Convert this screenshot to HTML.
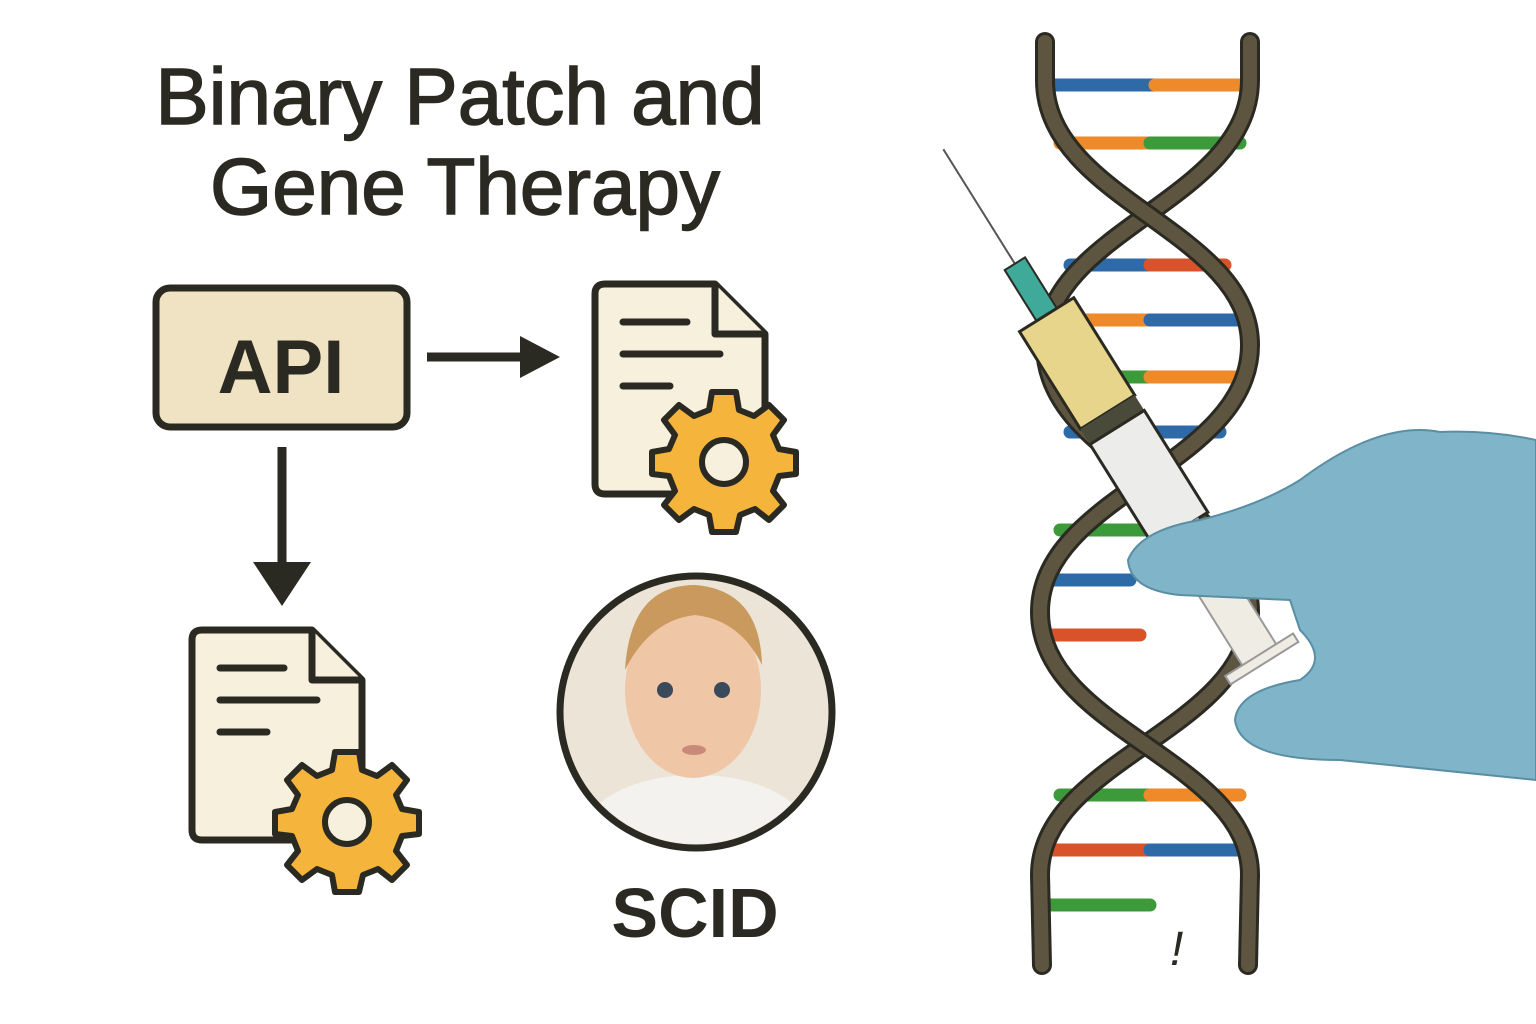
<!DOCTYPE html>
<html><head><meta charset="utf-8"><style>
html,body{margin:0;padding:0;background:#fff}
svg{display:block}
</style></head><body>
<svg width="1536" height="1024" viewBox="0 0 1536 1024" xmlns="http://www.w3.org/2000/svg">
<rect width="1536" height="1024" fill="#fff"/>
<g font-family="Liberation Sans, sans-serif" fill="#2b2a22" stroke="#2b2a22" stroke-width="1.5">
<text x="460" y="124" font-size="80" text-anchor="middle">Binary Patch and</text>
<text x="465" y="214" font-size="80" text-anchor="middle">Gene Therapy</text>
</g>
<rect x="156" y="288" width="251" height="139" rx="14" fill="#efe3c4" stroke="#2b2a22" stroke-width="7"/>
<text x="281" y="393" font-family="Liberation Sans, sans-serif" font-weight="bold" font-size="76" text-anchor="middle" fill="#2b2a22">API</text>
<line x1="427" y1="357" x2="525" y2="357" stroke="#2b2a22" stroke-width="9"/>
<polygon points="520,336 560,357 520,378" fill="#2b2a22"/>
<line x1="282" y1="447" x2="282" y2="570" stroke="#2b2a22" stroke-width="9"/>
<polygon points="253,562 311,562 282,606" fill="#2b2a22"/>
<defs>
<g id="doc">
<path d="M0,10 Q0,0 10,0 L120,0 L170,50 L170,200 Q170,210 160,210 L10,210 Q0,210 0,200 Z" fill="#f7f0dc" stroke="#2b2a22" stroke-width="7" stroke-linejoin="round"/>
<path d="M120,0 L120,50 L170,50" fill="#f7f0dc" stroke="#2b2a22" stroke-width="7" stroke-linejoin="round"/>
<line x1="28" y1="38" x2="92" y2="38" stroke="#2b2a22" stroke-width="7" stroke-linecap="round"/>
<line x1="28" y1="70" x2="125" y2="70" stroke="#2b2a22" stroke-width="7" stroke-linecap="round"/>
<line x1="28" y1="102" x2="75" y2="102" stroke="#2b2a22" stroke-width="7" stroke-linecap="round"/>
</g>
<g id="gear">
<g fill="#f5b43c" stroke="#2b2a22" stroke-width="6" stroke-linejoin="round">
<path d="M-12,-68 L12,-68 L15,-50 L30,-44 L45,-55 L60,-40 L49,-25 L55,-11 L72,-8 L72,14 L55,16 L49,31 L60,45 L45,60 L31,49 L16,55 L12,72 L-12,72 L-15,55 L-30,49 L-45,60 L-60,45 L-49,31 L-55,16 L-72,14 L-72,-8 L-55,-11 L-49,-25 L-60,-40 L-45,-55 L-30,-44 L-15,-50 Z"/>
<circle cx="0" cy="2" r="22" fill="#f7f0dc"/>
</g></g>
</defs>
<use href="#doc" x="595" y="284"/>
<use href="#gear" x="724" y="460"/>
<use href="#doc" x="192" y="630"/>
<use href="#gear" x="347" y="820"/>
<circle cx="696" cy="712" r="136" fill="#ece4d6" stroke="#2b2a22" stroke-width="7"/>
<clipPath id="cc"><circle cx="696" cy="712" r="132"/></clipPath>
<g clip-path="url(#cc)">
<ellipse cx="696" cy="830" rx="110" ry="55" fill="#f4f2ee"/>
<ellipse cx="693" cy="690" rx="68" ry="88" fill="#efc6a6"/>
<path d="M625,670 Q630,585 695,585 Q760,590 762,665 Q740,620 695,615 Q650,620 625,670Z" fill="#c9995e"/>
</g>
<circle cx="665" cy="690" r="8" fill="#3a4a5a"/><circle cx="722" cy="690" r="8" fill="#3a4a5a"/>
<ellipse cx="694" cy="750" rx="12" ry="5" fill="#c98a7a"/>
<text x="695" y="937" font-family="Liberation Sans, sans-serif" font-weight="bold" font-size="70" text-anchor="middle" fill="#2b2a22">SCID</text>
<g stroke-width="13" stroke-linecap="round">
<line x1="1055" y1="85" x2="1155" y2="85" stroke="#2f6aa8"/><line x1="1155" y1="85" x2="1245" y2="85" stroke="#ee8a2a"/>
<line x1="1060" y1="143" x2="1150" y2="143" stroke="#ee8a2a"/><line x1="1150" y1="143" x2="1240" y2="143" stroke="#3d9a3a"/>
<line x1="1070" y1="265" x2="1150" y2="265" stroke="#2f6aa8"/><line x1="1150" y1="265" x2="1225" y2="265" stroke="#d8532a"/>
<line x1="1055" y1="320" x2="1150" y2="320" stroke="#ee8a2a"/><line x1="1150" y1="320" x2="1245" y2="320" stroke="#2f6aa8"/>
<line x1="1055" y1="377" x2="1150" y2="377" stroke="#3d9a3a"/><line x1="1150" y1="377" x2="1245" y2="377" stroke="#ee8a2a"/>
<line x1="1070" y1="432" x2="1220" y2="432" stroke="#2f6aa8"/>
<line x1="1060" y1="530" x2="1145" y2="530" stroke="#3d9a3a"/>
<line x1="1050" y1="580" x2="1130" y2="580" stroke="#2f6aa8"/>
<line x1="1050" y1="635" x2="1140" y2="635" stroke="#d8532a"/>
<line x1="1060" y1="795" x2="1150" y2="795" stroke="#3d9a3a"/><line x1="1150" y1="795" x2="1240" y2="795" stroke="#ee8a2a"/>
<line x1="1050" y1="850" x2="1150" y2="850" stroke="#d8532a"/><line x1="1150" y1="850" x2="1245" y2="850" stroke="#2f6aa8"/>
<line x1="1050" y1="905" x2="1150" y2="905" stroke="#3d9a3a"/>
</g>
<g fill="none" stroke-linecap="round">
<path d="M1250,42 L1250,80 C1250,200 1045,230 1045,345 C1045,465 1250,495 1250,612 C1250,730 1040,760 1040,875 L1042,965" stroke="#2b2a22" stroke-width="20"/>
<path d="M1250,42 L1250,80 C1250,200 1045,230 1045,345 C1045,465 1250,495 1250,612 C1250,730 1040,760 1040,875 L1042,965" stroke="#5e5540" stroke-width="14"/>
<path d="M1045,42 L1045,80 C1045,200 1250,230 1250,345 C1250,465 1040,495 1040,612 C1040,730 1250,760 1250,875 L1248,965" stroke="#2b2a22" stroke-width="20"/>
<path d="M1045,42 L1045,80 C1045,200 1250,230 1250,345 C1250,465 1040,495 1040,612 C1040,730 1250,760 1250,875 L1248,965" stroke="#5e5540" stroke-width="14"/>
</g>
<text x="1170" y="965" font-family="Liberation Sans, sans-serif" font-style="italic" font-size="48" fill="#2b2a22">!</text>
<g transform="rotate(-32 1150 480)">
<line x1="1150" y1="90" x2="1150" y2="230" stroke="#555" stroke-width="2"/>
<rect x="1138" y="225" width="24" height="60" fill="#3fa99a" stroke="#2b2a22" stroke-width="2"/>
<rect x="1118" y="285" width="64" height="115" fill="#e6d58a" stroke="#2b2a22" stroke-width="3"/>
<rect x="1118" y="400" width="64" height="18" fill="#4a4a3a"/>
<rect x="1118" y="418" width="64" height="120" fill="#ececea" stroke="#2b2a22" stroke-width="3"/>
<rect x="1130" y="538" width="40" height="150" fill="#efece4" stroke="#999" stroke-width="2"/>
<rect x="1110" y="686" width="80" height="10" fill="#efece4" stroke="#999" stroke-width="2"/>
</g>
<path d="M1536,440 L1536,780 Q1440,770 1340,760 Q1240,760 1235,720 Q1238,690 1300,680 Q1330,660 1300,630 L1290,600 L1180,595 Q1130,590 1128,560 Q1140,530 1200,520 Q1260,505 1300,480 Q1380,420 1440,432 Q1490,430 1536,440Z" fill="#7fb4c9" stroke="#5a8ea3" stroke-width="2"/>
</svg>
</body></html>
